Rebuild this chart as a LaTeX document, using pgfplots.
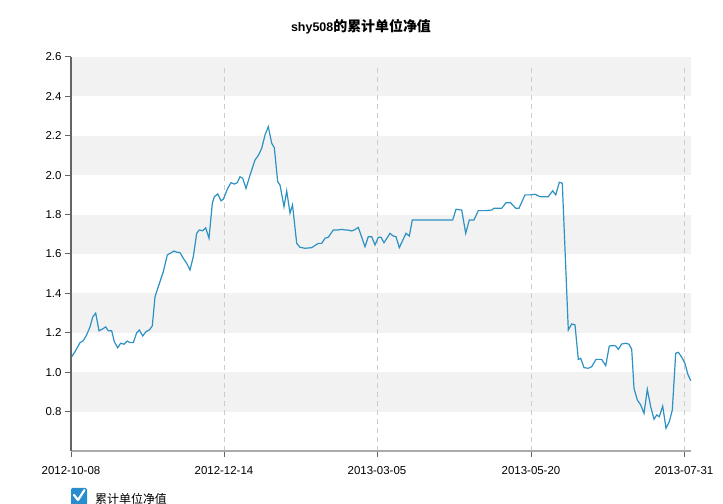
\documentclass[border=0pt]{standalone}
\usepackage{pgfplots}
\pgfplotsset{compat=1.18}
\usepackage{fontspec}
\setmainfont{Liberation Sans}
\newfontfamily\cjk{Noto Sans CJK SC}
\definecolor{linec}{RGB}{45,145,195}
\definecolor{band}{RGB}{242,242,242}
\definecolor{gridc}{RGB}{204,204,204}
\definecolor{yaxc}{RGB}{100,100,100}
\definecolor{xaxc}{RGB}{170,170,170}
\definecolor{boxc}{RGB}{40,140,205}
\begin{document}
\begin{tikzpicture}[x=1bp,y=1bp]
\useasboundingbox (0,0) rectangle (723,504);
\begin{axis}[at={(71bp,53bp)}, anchor=south west, scale only axis,
 width=620bp, height=394bp,
 xmin=71, xmax=691, ymin=0.6, ymax=2.6,
 axis x line*=bottom, axis y line*=left,
 axis on top=true,
 x axis line style={xaxc, line width=2bp},
 y axis line style={yaxc, line width=1.2bp},
 xtick={71,224,377,531,684},
 xticklabels={2012-10-08,2012-12-14,2013-03-05,2013-05-20,2013-07-31},
 xticklabel style={yshift=-6bp},
 ytick={0.8,1,1.2,1.4,1.6,1.8,2,2.2,2.4,2.6},
 yticklabel style={/pgf/number format/.cd, fixed, fixed zerofill, precision=1},
 tick align=outside,
 major tick length=6bp,
 xtick style={yaxc, line width=1bp},
 ytick style={yaxc, line width=1bp},
 tick label style={font=\fontsize{11.5}{12}\selectfont, text=black},
 /pgf/number format/assume math mode=true,
 clip=false,
]
\fill[band] (axis cs:71,2.4) rectangle (axis cs:691,2.6);
\fill[band] (axis cs:71,2.0) rectangle (axis cs:691,2.2);
\fill[band] (axis cs:71,1.6) rectangle (axis cs:691,1.8);
\fill[band] (axis cs:71,1.2) rectangle (axis cs:691,1.4);
\fill[band] (axis cs:71,0.8) rectangle (axis cs:691,1.0);
\draw[gridc, dash pattern=on 5bp off 4bp, line width=0.8bp] (axis cs:224,0.6) -- (axis cs:224,2.56);
\draw[gridc, dash pattern=on 5bp off 4bp, line width=0.8bp] (axis cs:377,0.6) -- (axis cs:377,2.56);
\draw[gridc, dash pattern=on 5bp off 4bp, line width=0.8bp] (axis cs:531,0.6) -- (axis cs:531,2.56);
\draw[gridc, dash pattern=on 5bp off 4bp, line width=0.8bp] (axis cs:684,0.6) -- (axis cs:684,2.56);
\addplot[linec, line width=1.2bp, mark=none] coordinates {
(71.7,1.079) (75,1.104) (80,1.15) (83.3,1.16) (86.7,1.19) (90,1.23) (92.7,1.28) (95.7,1.30)
(99,1.21) (102.7,1.22) (105.7,1.23) (108.3,1.21) (111.7,1.21) (114.3,1.155) (117.7,1.124)
(120.7,1.147) (124,1.142) (127.3,1.158) (130,1.15) (133.3,1.15) (136.7,1.20) (139.3,1.214)
(142.7,1.184) (146,1.206) (149.3,1.214) (152.3,1.235) (155,1.383) (158.3,1.434) (163.3,1.51)
(167.3,1.595) (170,1.603) (174,1.615) (176.7,1.609) (180,1.607) (183.3,1.578) (186.7,1.553)
(190,1.519) (193.3,1.586) (196.7,1.705) (199.3,1.722) (202.7,1.718) (205.7,1.733) (209,1.68)
(212.3,1.857) (214.3,1.89) (217.7,1.905) (221,1.87) (223.3,1.878) (227.7,1.933) (231,1.962)
(234.3,1.955) (237.3,1.962) (240,1.992) (242.7,1.984) (246,1.933) (250,2.0) (255,2.077)
(258.3,2.10) (261.7,2.136) (265,2.204) (268.3,2.246) (271.7,2.162) (274.3,2.14) (277.7,1.967)
(280,1.95) (284,1.84) (286.7,1.92) (290,1.807) (292.5,1.849) (296.7,1.654) (300,1.634)
(305,1.629) (311.7,1.632) (318.3,1.654) (321.7,1.654) (325,1.68) (328.3,1.685) (333.3,1.722)
(338.3,1.722) (341.7,1.725) (345,1.722) (347.3,1.722) (351.7,1.717) (354.3,1.722) (358.3,1.735)
(365,1.637) (368.3,1.688) (371.7,1.688) (375,1.646) (378.3,1.685) (381,1.685) (384,1.657)
(390,1.705) (393.3,1.691) (396,1.688) (399.3,1.632) (406,1.705) (409.3,1.691) (412.3,1.773)
(452.7,1.773) (456,1.827) (461.7,1.823) (465.7,1.705) (469.3,1.773) (474,1.773) (478.3,1.82)
(485,1.82) (491.7,1.823) (494,1.832) (501.7,1.832) (506,1.86) (510.7,1.86) (515.7,1.832)
(519,1.832) (525,1.90) (530,1.90) (535,1.903) (540,1.891) (548.3,1.891) (552.7,1.921)
(555.7,1.90) (559.3,1.964) (562.3,1.959) (568.3,1.214) (571.7,1.245) (575,1.24) (578.3,1.065)
(580.7,1.07) (584,1.023) (588.3,1.02) (591.7,1.028) (596,1.065) (601.7,1.065) (605.7,1.033)
(609.3,1.133) (613.3,1.135) (615.7,1.133) (618.3,1.116) (621.7,1.143) (625.7,1.147) (629,1.142)
(631.7,1.116) (634,0.918) (637.3,0.859) (640.7,0.834) (644,0.791) (647.3,0.913) (650.7,0.825)
(654,0.761) (656.7,0.783) (659.3,0.774) (662.7,0.828) (666,0.715) (669.3,0.749) (672.3,0.808)
(675.7,1.096) (678.3,1.101) (681.7,1.076) (685,1.045) (687.7,0.991) (690.7,0.957)
};
\end{axis}
\node[anchor=center, inner sep=0pt] at (361,477)
 {\fontsize{12.5}{14}\selectfont\bfseries shy508{\cjk\fontsize{14}{16}\selectfont\bfseries 的累计单位净值}};
\fill[boxc, rounded corners=1.5bp] (71,-2) rectangle (87,16);
\draw[white, line width=2.2bp, line cap=round, line join=round] (74,9) -- (78,4) -- (84.5,14);
\node[anchor=base west, inner sep=0pt] at (95,0.5) {\cjk\fontsize{12}{14}\selectfont 累计单位净值};
\end{tikzpicture}
\end{document}
